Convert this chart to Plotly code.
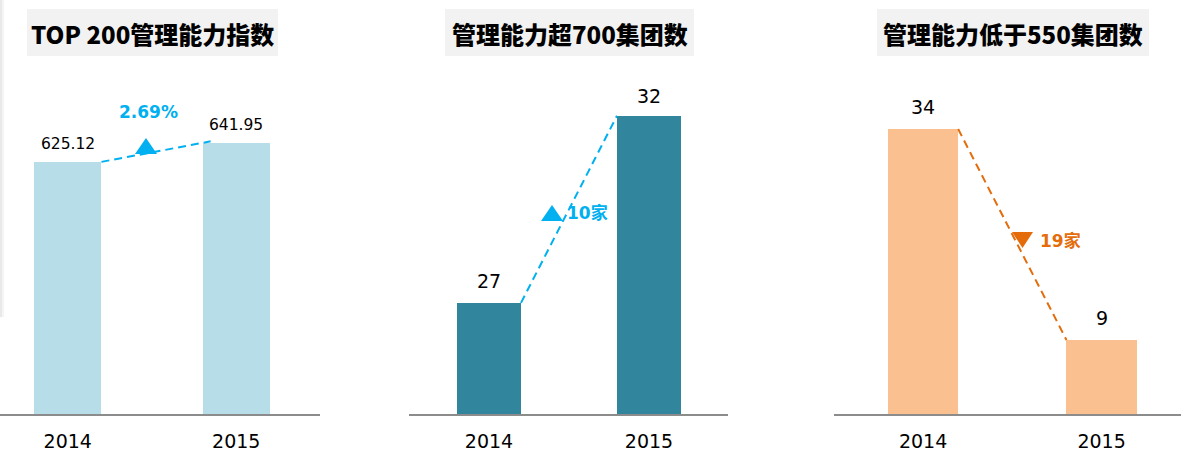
import plotly.graph_objects as go

W, H = 1181, 461

# ---- data ----
years = ["2014", "2015"]
titles = ["TOP 200管理能力指数", "管理能力超700集团数", "管理能力低于550集团数"]
index_vals = [625.12, 641.95]
over700_vals = [27, 32]
below550_vals = [34, 9]
value_labels = [["625.12", "641.95"], ["27", "32"], ["34", "9"]]
change_labels = ["2.69%", "10家", "19家"]
series = [index_vals, over700_vals, below550_vals]

# ---- styles ----
bar_colors = ["#B7DDE8", "#31859C", "#FAC090"]
line_colors = ["#00B0F0", "#00B0F0", "#E46C0A"]


def px(x):
    return x / W


def py(y):
    return 1 - y / H


pos = list(range(len(years)))
y_dom = [py(414), py(75)]
x_doms = [[px(0), px(320)], [px(409), px(728)], [px(834), 1.0]]
x_ranges = [[-0.402, 1.497], [-0.5, 1.494], [-0.499, 1.445]]
y_ranges = [[402, 702], [24.03, 33.09], [0.23, 40.4]]
bar_w = [0.4, 0.4, 0.393]
label_font = [15.5, 19, 19]
label_shift = [[17.5, 18], [21.5, 20], [22, 22]]

fig = go.Figure()
shapes = []
annotations = []

for i in range(3):
    xa = "x" if i == 0 else f"x{i+1}"
    ya = "y" if i == 0 else f"y{i+1}"
    vals = series[i]
    fig.add_trace(go.Bar(
        x=pos, y=vals, width=bar_w[i], marker=dict(color=bar_colors[i], line=dict(width=0)),
        xaxis=xa, yaxis=ya, hoverinfo="skip",
    ))
    # dashed change line between bar tops
    hw = bar_w[i] / 2
    x0, y0 = pos[0] + hw, vals[0]
    x1, y1 = pos[1] - hw, vals[1]
    if i == 0:
        t = 1.08
        x1, y1 = x0 + (x1 - x0) * t, y0 + (y1 - y0) * t
    fig.add_trace(go.Scatter(
        x=[x0, x1], y=[y0, y1], mode="lines",
        line=dict(color=line_colors[i], width=2, dash="8px,5px"),
        xaxis=xa, yaxis=ya, hoverinfo="skip",
    ))
    # value labels
    for j in range(2):
        annotations.append(dict(
            x=pos[j], y=vals[j], xref=xa, yref=ya, text=value_labels[i][j], showarrow=False,
            yanchor="middle", yshift=label_shift[i][j],
            font=dict(family="DejaVu Sans", size=label_font[i], color="#000000"),
        ))
    # title box
    shapes.append(dict(type="rect", xref="paper", yref="paper",
                       x0=px([27, 445, 877][i]), x1=px([278, 694, 1149][i]),
                       y0=py(56), y1=py(9), fillcolor="#F2F2F2", line=dict(width=0), layer="below"))
    annotations.append(dict(
        x=px([152.5, 569.5, 1013][i]), y=py(33), xref="paper", yref="paper",
        text=titles[i], showarrow=False, xanchor="center", yanchor="middle",
        font=dict(family="Noto Sans CJK SC", size=24, color="#000000", weight=900),
    ))

# change markers (triangles)
tri_up = "M-11,-8 L11,-8 L0,8 Z"
tri_down = "M-10.5,8 L10.5,8 L0,-8 Z"
for (cx, cy, path, col) in [(146, 146, tri_up, line_colors[0]),
                            (552, 213, tri_up, line_colors[1]),
                            (1022.5, 240, tri_down, line_colors[2])]:
    shapes.append(dict(type="path", xref="paper", yref="paper", xsizemode="pixel", ysizemode="pixel",
                       xanchor=px(cx), yanchor=py(cy), path=path, fillcolor=col, line=dict(width=0)))

# change text
annotations.append(dict(x=px(148), y=py(112), xref="paper", yref="paper", text=f"<b>{change_labels[0]}</b>",
                        showarrow=False, xanchor="center", yanchor="middle",
                        font=dict(family="DejaVu Sans, Noto Sans CJK SC", size=17, color=line_colors[0])))
annotations.append(dict(x=px(565), y=py(213), xref="paper", yref="paper", text=f"<b>{change_labels[1]}</b>",
                        showarrow=False, xanchor="left", yanchor="middle",
                        font=dict(family="DejaVu Sans, Noto Sans CJK SC", size=17, color=line_colors[1])))
annotations.append(dict(x=px(1038), y=py(241), xref="paper", yref="paper", text=f"<b>{change_labels[2]}</b>",
                        showarrow=False, xanchor="left", yanchor="middle",
                        font=dict(family="DejaVu Sans, Noto Sans CJK SC", size=17, color=line_colors[2])))

# faint left edge shadow
shapes.append(dict(type="rect", xref="paper", yref="paper", x0=0, x1=px(2), y0=py(317), y1=1,
                   fillcolor="#E9E9E9", line=dict(width=0), layer="below"))
shapes.append(dict(type="rect", xref="paper", yref="paper", x0=px(2), x1=px(4), y0=py(317), y1=1,
                   fillcolor="#F5F5F5", line=dict(width=0), layer="below"))

layout = dict(
    width=W, height=H, margin=dict(l=0, r=0, t=0, b=0),
    paper_bgcolor="white", plot_bgcolor="white", showlegend=False,
    shapes=shapes, annotations=annotations, bargap=0,
)
for i in range(3):
    xk = "xaxis" if i == 0 else f"xaxis{i+1}"
    yk = "yaxis" if i == 0 else f"yaxis{i+1}"
    layout[xk] = dict(
        domain=x_doms[i], anchor="y" if i == 0 else f"y{i+1}", type="linear",
        tickmode="array", tickvals=pos, ticktext=years, range=x_ranges[i],
        showline=True, linecolor="#8C8C8C", linewidth=1.5, showgrid=False, zeroline=False,
        ticks="outside", ticklen=9, tickcolor="rgba(0,0,0,0)",
        tickfont=dict(family="DejaVu Sans", size=19, color="#000000"), fixedrange=True,
    )
    layout[yk] = dict(
        domain=y_dom, anchor="x" if i == 0 else f"x{i+1}", range=y_ranges[i],
        visible=False, showgrid=False, zeroline=False, fixedrange=True,
    )
fig.update_layout(**layout)
fig.write_html("out.html", config={"displayModeBar": False},
               post_script="document.body.style.margin='0';document.body.style.overflow='hidden';")
